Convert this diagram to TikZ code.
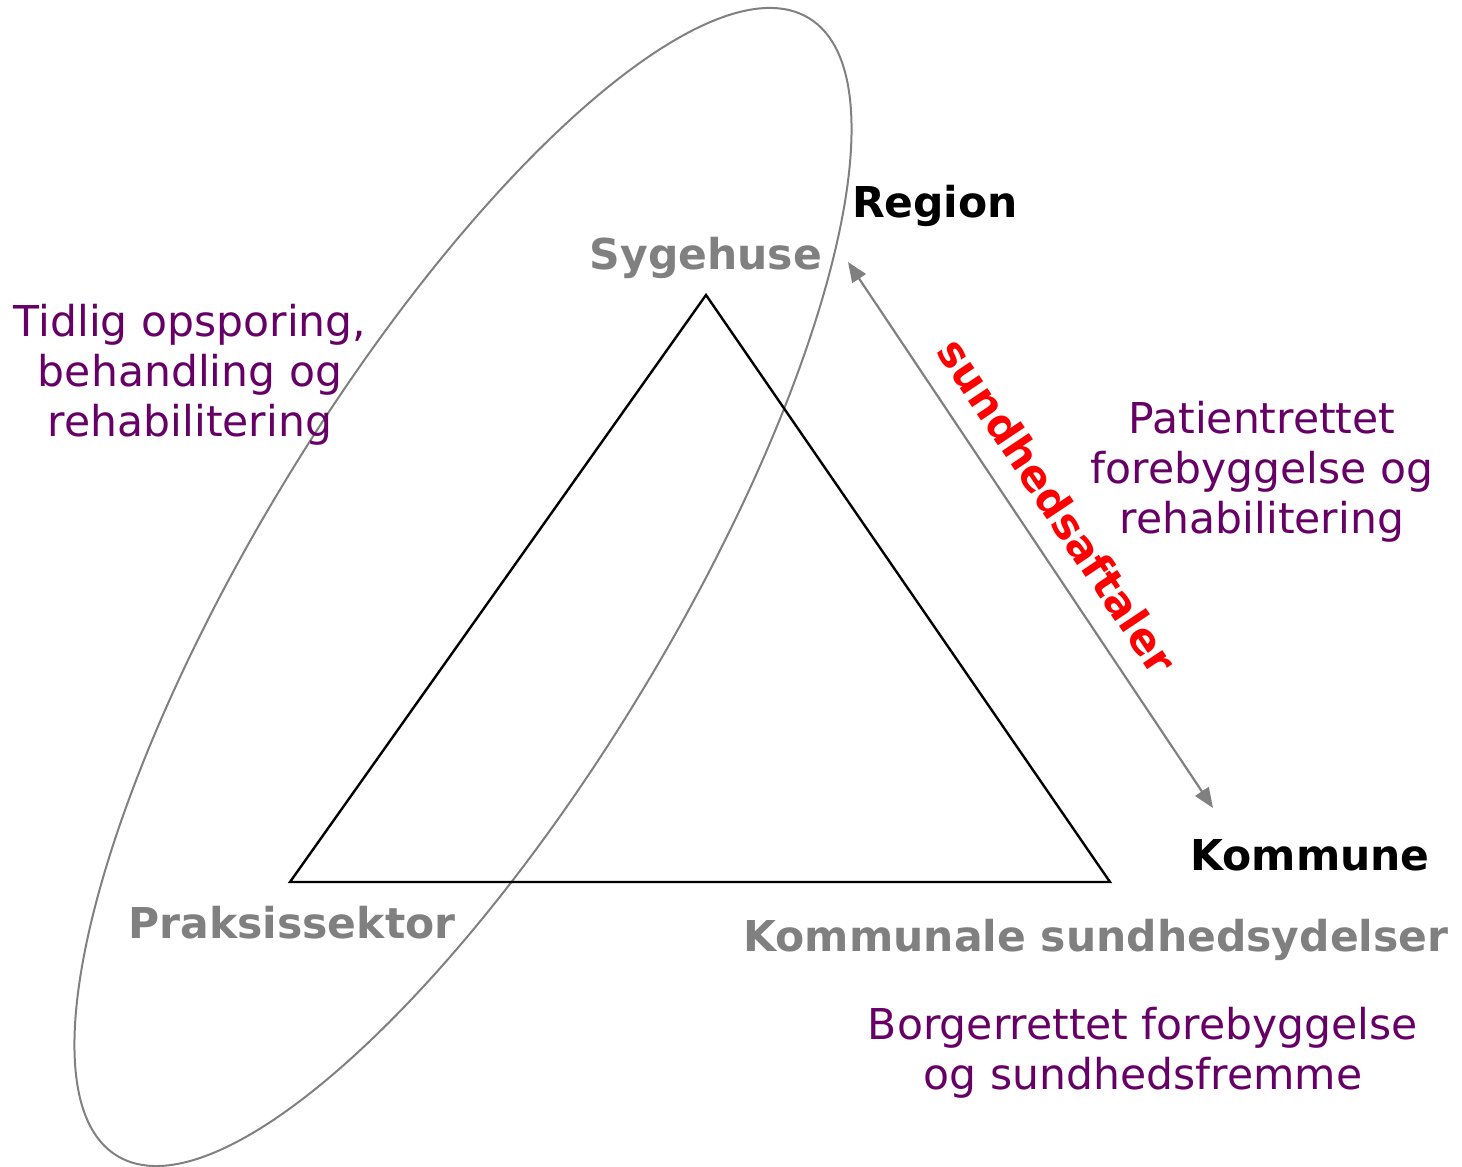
\documentclass[tikz,border=0pt]{standalone}
\usepackage{fontspec}
\setmainfont{DejaVu Sans}
\usetikzlibrary{arrows.meta}
\definecolor{txtgray}{HTML}{808080}
\definecolor{purp}{HTML}{660066}
\definecolor{linegray}{HTML}{808080}
\tikzset{
  lbl/.style={font=\bfseries\fontsize{42.5}{50}\selectfont, inner sep=0pt},
  graylbl/.style={lbl, text=txtgray},
  blacklbl/.style={lbl, text=black},
  purptxt/.style={font=\fontsize{42.5}{50}\selectfont, text=purp, align=center, inner sep=0pt},
}
\begin{document}
\begin{tikzpicture}[x=1pt,y=1pt]
\useasboundingbox (0,0) rectangle (1462,1167);
% ellipse
\draw[linegray, line width=2pt, rotate around={58.7:(463,580)}] (463,580) ellipse [x radius=665.8, y radius=207];
% triangle
\coordinate (top) at (706,872);
\coordinate (bl) at (290,285);
\coordinate (br) at (1110,285);
\draw[black, line width=2.4pt, line join=miter] (top) -- (bl) -- (br) -- cycle;
% arrow
\coordinate (a1) at (848,905);
\coordinate (a2) at (1213,359);
\draw[linegray, line width=2.2pt, {Triangle[length=20pt,width=16pt]}-{Triangle[length=20pt,width=16pt]}] (a1) -- (a2)
  node[pos=0.486, sloped, above=21pt, text=red, font=\bfseries\fontsize{42.5}{50}\selectfont, inner sep=0pt] (agree) {sundhedsaftaler};
% labels
\node[blacklbl] (region) at (935,961) {Region};
\node[graylbl] (syg) at (706,909) {Sygehuse};
\node[graylbl] (prak) at (292,244) {Praksissektor};
\node[blacklbl] (komm) at (1310,312) {Kommune};
\node[graylbl] (kommsund) at (1096,227) {Kommunale sundhedsydelser};
% purple texts
\node[purptxt] (t1) at (190,792) {Tidlig opsporing,\\behandling og\\rehabilitering};
\node[purptxt] (t2) at (1262,695) {Patientrettet\\forebyggelse og\\rehabilitering};
\node[purptxt] (t3) at (1143,114) {Borgerrettet forebyggelse\\og sundhedsfremme};
\end{tikzpicture}
\end{document}
